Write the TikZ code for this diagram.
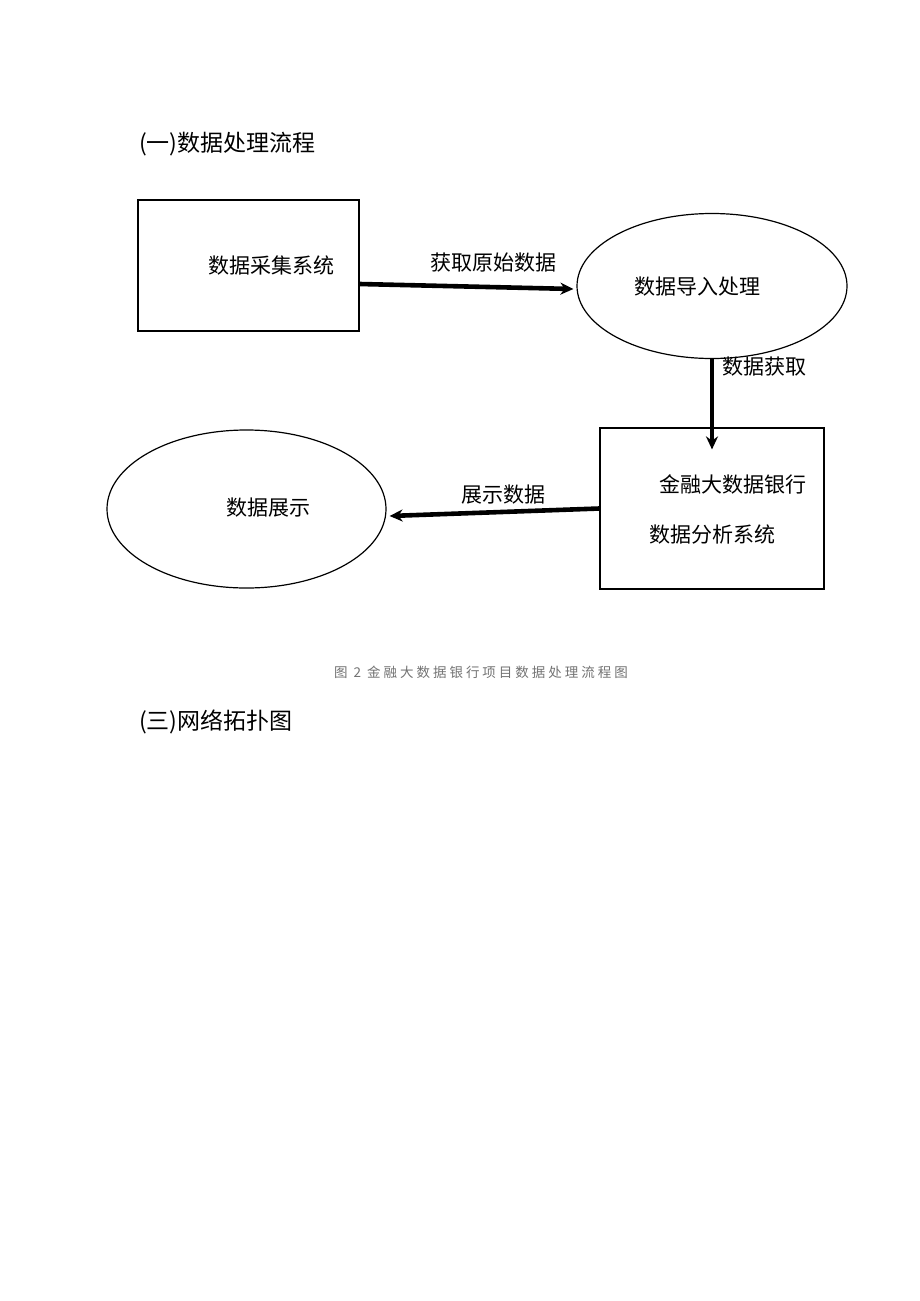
\documentclass[tikz,border=0pt]{standalone}
\usepackage{fontspec}
\setmainfont{Noto Sans CJK SC}
\newfontfamily\capfont[LetterSpace=22]{Noto Sans CJK SC}
\usetikzlibrary{shapes.geometric,arrows.meta}

\begin{document}
\begin{tikzpicture}[x=1pt, y=-1pt,
		box/.style={draw, line width=1.2pt, inner sep=0pt},
		oval/.style={draw, ellipse, line width=1.2pt, inner sep=0pt},
		txt/.style={font=\fontsize{21}{25}\selectfont, inner sep=0pt},
		head/.style={font=\fontsize{23}{27}\selectfont, inner sep=0pt, anchor=west},
		flow/.style={line width=4.6pt, -{Stealth[length=13pt, width=12pt]}}]
			\useasboundingbox[fill=white] (0, 0) rectangle (920, 1301);
			% headings
			\node[head] (h1) at (139, 144) {(一)数据处理流程};
			\node[head] (h3) at (139, 722) {(三)网络拓扑图};
			% shapes
			\node[box, minimum width=221pt, minimum height=131pt] (coll) at (248.5, 265.5) {};
			\node[oval, minimum width=270pt, minimum height=145pt] (proc) at (712, 286) {};
			\node[box, minimum width=224pt, minimum height=161pt] (ana) at (712, 508.5) {};
			\node[oval, minimum width=279pt, minimum height=158pt] (disp) at (246.5, 509) {};
			% texts
			\node[txt] (collt) at (271, 266) {数据采集系统};
			\node[txt] (proct) at (697, 287) {数据导入处理};
			\node[txt] (anat1) at (733, 484) {金融大数据银行};
			\node[txt] (anat2) at (712, 535) {数据分析系统};
			\node[txt] (dispt) at (268, 508) {数据展示};
			% connectors
			\draw[flow] ([yshift=-18.5pt]coll.east) -- ([shift={(-3, 3)}]proc.west);
			\node[txt] (l1) at (493, 263) {获取原始数据};
			\draw[flow, line width=3.4pt] (proc.south) -- ([yshift=-22pt]ana.north);
			\node[txt, anchor=west] (l2) at (722, 367) {数据获取};
			\draw[flow] (ana.west) -- ([shift={(3, 7)}]disp.east);
			\node[txt] (l3) at (503, 495) {展示数据};
			% caption
			\node[inner sep=0pt, text=black!55, font=\capfont\fontsize{13.5}{16}\selectfont] (cap) at (481, 672) {图 2 金融大数据银行项目数据处理流程图};
		\end{tikzpicture}
\end{document}
